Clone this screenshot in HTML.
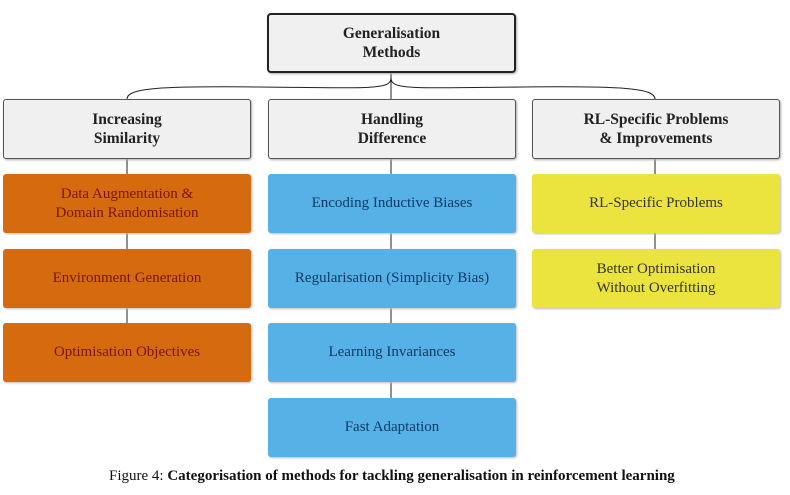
<!DOCTYPE html>
<html><head><meta charset="utf-8"><style>
body{margin:0;background:#fff;width:790px;height:495px;position:relative;overflow:hidden;font-family:"Liberation Serif",serif}
.b{position:absolute;box-sizing:border-box;display:flex;align-items:center;justify-content:center;text-align:center;font-size:15px;line-height:19px;border-radius:3px}
.g{background:#f0f0f0;border:1px solid #555;font-weight:bold;color:#222;box-shadow:1px 1px 2px #aaa;font-size:15.5px}
.o{background:#d66a0e;color:#7a1500;box-shadow:1px 1px 2px #bbb}
.u{background:#56b1e6;color:#0e3a66;box-shadow:1px 1px 2px #bbb}
.y{background:#ece43e;color:#333;box-shadow:1px 1px 2px #bbb}
</style></head><body>
<svg width="790" height="495" style="position:absolute;left:0;top:0">
<g stroke="#222" stroke-width="1" fill="none">
<path d="M391 72 V99"/>
<path d="M391 78 C391 90 370 88 260 87 C160 86 127 88 127 99"/>
<path d="M391 78 C391 90 412 88 522 87 C622 86 655 88 655 99"/>
<path d="M127 158 V323 M391 158 V398 M655 158 V249"/>
</g></svg>
<div class="b g" style="left:267px;top:13px;width:249px;height:60px;border:2px solid #222;border-radius:4px">Generalisation<br>Methods</div>
<div class="b g" style="left:3px;top:99px;width:248px;height:60px">Increasing<br>Similarity</div>
<div class="b g" style="left:268px;top:99px;width:248px;height:60px">Handling<br>Difference</div>
<div class="b g" style="left:532px;top:99px;width:248px;height:60px">RL-Specific Problems<br>&amp; Improvements</div>
<div class="b o" style="left:3px;top:174px;width:248px;height:59px">Data Augmentation &amp;<br>Domain Randomisation</div>
<div class="b o" style="left:3px;top:249px;width:248px;height:59px">Environment Generation</div>
<div class="b o" style="left:3px;top:323px;width:248px;height:59px">Optimisation Objectives</div>
<div class="b u" style="left:268px;top:174px;width:248px;height:59px">Encoding Inductive Biases</div>
<div class="b u" style="left:268px;top:249px;width:248px;height:59px">Regularisation (Simplicity Bias)</div>
<div class="b u" style="left:268px;top:323px;width:248px;height:59px">Learning Invariances</div>
<div class="b u" style="left:268px;top:398px;width:248px;height:59px">Fast Adaptation</div>
<div class="b y" style="left:532px;top:174px;width:248px;height:59px">RL-Specific Problems</div>
<div class="b y" style="left:532px;top:249px;width:248px;height:59px">Better Optimisation<br>Without Overfitting</div>
<div style="position:absolute;left:109px;top:468px;font-size:15px;white-space:nowrap;color:#111">Figure 4: <b>Categorisation of methods for tackling generalisation in reinforcement learning</b></div>
</body></html>
